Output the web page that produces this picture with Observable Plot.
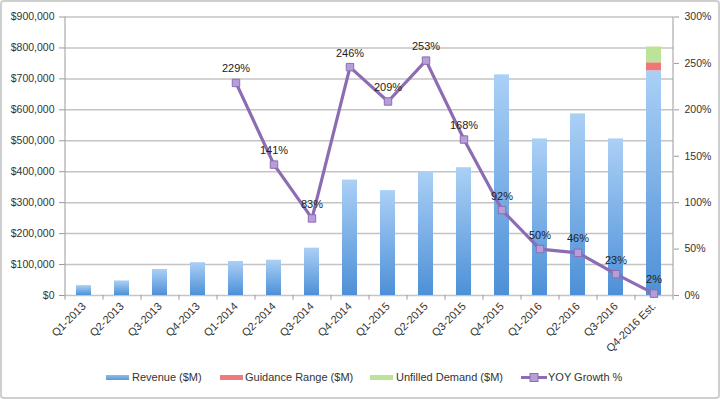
<!DOCTYPE html>
<html>
<head>
<meta charset="utf-8">
<script src="https://cdn.jsdelivr.net/npm/d3@7"></script>
<script src="https://cdn.jsdelivr.net/npm/@observablehq/plot@0.6"></script>
<style>
  body { margin: 0; background: #fff; }
  #wrap { position: relative; width: 720px; height: 399px; overflow: hidden; font-family: "Liberation Sans", Arial, sans-serif; }
  #border { position: absolute; left: 0; top: 0; width: 716px; height: 395px; border: 2px solid #cfcfcf; border-radius: 4px; pointer-events: none; }
  #chart { position: absolute; left: 0; top: 0; }
  #chart svg { overflow: visible; }
  .lg { position: absolute; top: 370px; font-size: 11px; color: #333; white-space: nowrap; line-height: 14px; }
  .sw { position: absolute; top: 375px; width: 23px; height: 5px; }
</style>
</head>
<body>
<div id="wrap">
  <div id="chart"></div>
  <div class="sw" style="left:106px;background:linear-gradient(#8fbcec,#5a9ad9);"></div>
  <div class="lg" style="left:132px;">Revenue ($M)</div>
  <div class="sw" style="left:220px;background:#ee7b7b;"></div>
  <div class="lg" style="left:245px;">Guidance Range ($M)</div>
  <div class="sw" style="left:370px;background:#bde39a;"></div>
  <div class="lg" style="left:396px;">Unfilled Demand ($M)</div>
  <svg style="position:absolute;left:520px;top:370px;" width="28" height="14">
    <line x1="1" y1="7.5" x2="27" y2="7.5" stroke="#8c6cb3" stroke-width="3"/>
    <rect x="10" y="3.5" width="8" height="8" fill="#b69ed8" stroke="#8c6cb3" stroke-width="1"/>
  </svg>
  <div class="lg" style="left:548px;">YOY Growth %</div>
  <div id="border"></div>
</div>
<script>
const quarters = ["Q1-2013","Q2-2013","Q3-2013","Q4-2013","Q1-2014","Q2-2014","Q3-2014","Q4-2014",
  "Q1-2015","Q2-2015","Q3-2015","Q4-2015","Q1-2016","Q2-2016","Q3-2016","Q4-2016 Est."];
const revenue = [32000, 47000, 84000, 106000, 110000, 114000, 153000, 373000,
  339000, 400000, 413000, 713000, 506000, 587000, 506000, 726000];
const guidance = [0,0,0,0,0,0,0,0,0,0,0,0,0,0,0,26000];
const unfilled = [0,0,0,0,0,0,0,0,0,0,0,0,0,0,0,51000];
const growthQuarters = quarters.slice(4);
const growth = [229, 141, 83, 246, 209, 253, 168, 92, 50, 46, 23, 2];
const leftTicks = [0,100000,200000,300000,400000,500000,600000,700000,800000,900000];
const rightTicks = [0,50,100,150,200,250,300];

const yMax = 900000, pctMax = 300;
const toY = p => p / pctMax * yMax;

const bars = quarters.map((q, i) => ({q, rev: revenue[i], g: guidance[i], u: unfilled[i]}));
const extra = bars.filter(d => d.g > 0 || d.u > 0);
const growthData = growthQuarters.map((q, i) => ({q, g: growth[i]}));
const last = quarters[quarters.length - 1];

const plot = Plot.plot({
  width: 720,
  height: 362,
  marginLeft: 64,
  marginRight: 47,
  marginTop: 16.5,
  marginBottom: 67,
  style: {fontFamily: "Liberation Sans, Arial, sans-serif", fontSize: "11px", color: "#333", background: "transparent", overflow: "visible"},
  x: {domain: quarters, paddingInner: 0.6, paddingOuter: 0.3, label: null},
  y: {domain: [0, yMax], label: null},
  marks: [
    Plot.ruleY(leftTicks, {y: d => d, stroke: "#c4c4c4", strokeWidth: 1.5}),
    Plot.barY(bars, {x: "q", y1: 0, y2: "rev", fill: "url(#revGrad)"}),
    Plot.barY(extra, {x: "q", y1: "rev", y2: d => d.rev + d.g, fill: "#ee7777"}),
    Plot.barY(extra, {x: "q", y1: d => d.rev + d.g, y2: d => d.rev + d.g + d.u, fill: "#bde39a"}),
    Plot.ruleX([quarters[0]], {x: d => d, y1: -15000, y2: yMax, dx: -19, stroke: "#9a9a9a", strokeWidth: 1}),
    Plot.ruleX([last], {x: d => d, y1: -15000, y2: yMax, dx: 19, stroke: "#9a9a9a", strokeWidth: 1}),
    Plot.ruleX(quarters.slice(1), {x: d => d, y1: -15000, y2: 0, dx: -19, stroke: "#9a9a9a", strokeWidth: 1}),
    Plot.axisY(leftTicks, {anchor: "left", tickFormat: d => "$" + d3.format(",")(d), tickSize: 5, tickPadding: 5, stroke: "#9a9a9a", fill: "#333", fontSize: 10.5}),
    Plot.axisY(rightTicks.map(toY), {anchor: "right", tickFormat: d => Math.round(d / yMax * pctMax) + "%", tickSize: 5, tickPadding: 6, stroke: "#9a9a9a", fill: "#333", fontSize: 10.5}),
    Plot.axisX({tickRotate: -45, tickSize: 0, tickPadding: 9, fill: "#333", fontSize: 11}),
    Plot.line(growthData, {x: "q", y: d => toY(d.g), stroke: "#8c6cb3", strokeWidth: 3.2}),
    Plot.dot(growthData, {x: "q", y: d => toY(d.g), symbol: "square", r: 4.2, fill: "#b69ed8", stroke: "#8c6cb3", strokeWidth: 1}),
    Plot.text(growthData, {x: "q", y: d => toY(d.g), text: d => d.g + "%", dy: -14, fill: "#222", fontSize: 11})
  ]
});

const svg = d3.select(plot);
const grad = svg.insert("defs", ":first-child").append("linearGradient")
  .attr("id", "revGrad").attr("x1", 0).attr("y1", 0).attr("x2", 0).attr("y2", 1);
grad.append("stop").attr("offset", "0%").attr("stop-color", "#abd0f6");
grad.append("stop").attr("offset", "100%").attr("stop-color", "#4d90d7");

document.getElementById("chart").appendChild(plot);
</script>
</body>
</html>
